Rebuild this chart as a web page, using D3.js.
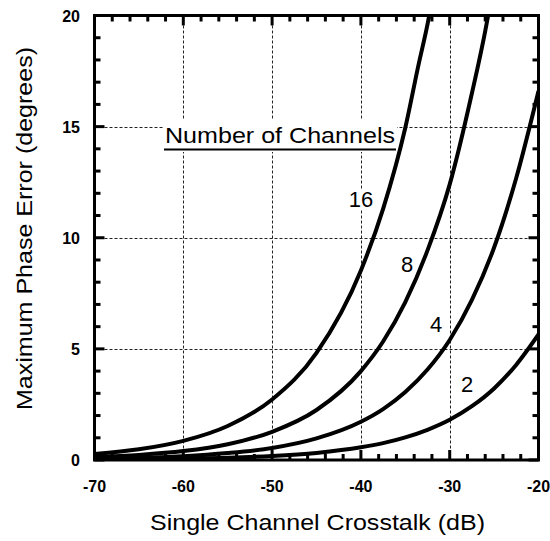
<!DOCTYPE html>
<html><head><meta charset="utf-8">
<script src="https://cdn.jsdelivr.net/npm/d3@7"></script>
<style>body{margin:0;background:#fff}svg{display:block}text{font-family:"Liberation Sans",Arial,Helvetica,sans-serif}</style>
</head><body>
<script>
const xMajor = [-70, -60, -50, -40, -30, -20];
const yMajor = [0, 5, 10, 15, 20];
const xGrid = [-60, -50, -40, -30];
const yGrid = [5, 10, 15];

const ch2 = [[-70,0.02],[-65,0.03],[-60,0.06],[-55,0.10],[-50,0.18],[-45,0.32],[-40,0.57],[-37.5,0.76],[-35,1.02],[-32.5,1.36],[-30,1.81],[-27.5,2.42],[-25,3.22],[-22.5,4.29],[-20,5.65]];
const ch4 = [[-70,0.05],[-65,0.10],[-60,0.17],[-55,0.31],[-50,0.54],[-45,0.97],[-40,1.72],[-37.5,2.29],[-35,3.06],[-32.5,4.07],[-30,5.4],[-27.5,7.2],[-25,9.56],[-22.5,12.7],[-20,16.6]];
const ch8 = [[-70,0.13],[-65,0.23],[-60,0.40],[-55,0.71],[-50,1.27],[-45,2.25],[-40,4.0],[-37.5,5.33],[-35,7.1],[-32.5,9.43],[-30,12.4],[-27.5,16.5],[-26,19.3],[-25,21.5]];
const ch16 = [[-70,0.27],[-65,0.48],[-60,0.86],[-55,1.53],[-50,2.72],[-45,4.82],[-40,8.53],[-37.5,11.3],[-35,14.95],[-33.5,17.8],[-32.5,19.6],[-31.5,21.8]];
const seriesNames = ["2", "4", "8", "16"];
const labelPos = [[467, 392], [436, 332], [407, 272], [361, 207]];

const W = 550, H = 541;
const m = {l: 94.5, r: 538.5, t: 15.5, b: 460};
const svg = d3.select("body").append("svg").attr("width", W).attr("height", H);
const x = d3.scaleLinear().domain([-70, -20]).range([m.l, m.r]);
const y = d3.scaleLinear().domain([0, 20]).range([m.b, m.t]);

// grid
const g = svg.append("g");
g.selectAll(".gx").data(xGrid).join("line")
  .attr("x1", d => Math.round(x(d)) + 0.5).attr("x2", d => Math.round(x(d)) + 0.5)
  .attr("y1", m.t).attr("y2", m.b)
  .attr("stroke", "#222").attr("stroke-width", 1).attr("stroke-dasharray", "3,2");
g.selectAll(".gy").data(yGrid).join("line")
  .attr("y1", d => Math.round(y(d)) + 0.5).attr("y2", d => Math.round(y(d)) + 0.5)
  .attr("x1", m.l).attr("x2", m.r)
  .attr("stroke", "#222").attr("stroke-width", 1).attr("stroke-dasharray", "3,2");

// legend title with white background
svg.append("rect").attr("x", 163).attr("y", 119).attr("width", 234).attr("height", 33).attr("fill", "#fff");
svg.append("text").attr("x", 165).attr("y", 143).attr("font-size", 22)
  .attr("textLength", 230).attr("lengthAdjust", "spacingAndGlyphs").text("Number of Channels");
svg.append("line").attr("x1", 164).attr("x2", 396).attr("y1", 149.5).attr("y2", 149.5)
  .attr("stroke", "#000").attr("stroke-width", 2);

// series labels
seriesNames.forEach((n, i) => {
  const t = svg.append("text").attr("x", labelPos[i][0]).attr("y", labelPos[i][1])
    .attr("font-size", 22).attr("text-anchor", "middle").text(n);
  const bb = t.node().getBBox();
  svg.insert("rect", "text:last-of-type").attr("x", bb.x - 1).attr("y", bb.y + 2)
    .attr("width", bb.width + 2).attr("height", bb.height - 4).attr("fill", "#fff");
});

// curves
svg.append("clipPath").attr("id", "clip").append("rect")
  .attr("x", m.l).attr("y", m.t).attr("width", m.r - m.l).attr("height", m.b - m.t);
const line = d3.line().x(d => x(d[0])).y(d => y(d[1])).curve(d3.curveMonotoneX);
svg.append("g").attr("clip-path", "url(#clip)")
  .selectAll("path").data([ch2, ch4, ch8, ch16]).join("path")
  .attr("d", line).attr("fill", "none").attr("stroke", "#000").attr("stroke-width", 4);

// ticks on all sides (inward)
const tk = svg.append("g").attr("stroke", "#000").attr("stroke-width", 3);
const xMinor = d3.range(-70, -19.9, 2);
const yMinor = d3.range(0, 20.1, 1);
xMinor.forEach(v => {
  const len = (v % 10 === 0) ? 10 : 6;
  const px = x(v);
  tk.append("line").attr("x1", px).attr("x2", px).attr("y1", m.b).attr("y2", m.b - len);
  tk.append("line").attr("x1", px).attr("x2", px).attr("y1", m.t).attr("y2", m.t + len);
});
yMinor.forEach(v => {
  const len = (v % 5 === 0) ? 10 : 6;
  const py = y(v);
  tk.append("line").attr("y1", py).attr("y2", py).attr("x1", m.l).attr("x2", m.l + len);
  tk.append("line").attr("y1", py).attr("y2", py).attr("x1", m.r).attr("x2", m.r - len);
});

// frame
svg.append("rect").attr("x", m.l).attr("y", m.t).attr("width", m.r - m.l).attr("height", m.b - m.t)
  .attr("fill", "none").attr("stroke", "#000").attr("stroke-width", 3);

// tick labels
svg.selectAll(".xl").data(xMajor).join("text")
  .attr("x", d => x(d)).attr("y", 492).attr("text-anchor", "middle")
  .attr("font-size", 16).attr("font-weight", "bold").text(d => d);
svg.selectAll(".yl").data(yMajor).join("text")
  .attr("x", 80).attr("y", d => y(d) + 6).attr("text-anchor", "end")
  .attr("font-size", 16).attr("font-weight", "bold").text(d => d);

// axis titles
svg.append("text").attr("x", 150).attr("y", 530).attr("font-size", 21.5)
  .attr("textLength", 335).attr("lengthAdjust", "spacingAndGlyphs").text("Single Channel Crosstalk (dB)");
svg.append("text").attr("transform", "translate(32,410) rotate(-90)").attr("font-size", 22)
  .attr("textLength", 363).attr("lengthAdjust", "spacingAndGlyphs").text("Maximum Phase Error (degrees)");
</script>
</body></html>
